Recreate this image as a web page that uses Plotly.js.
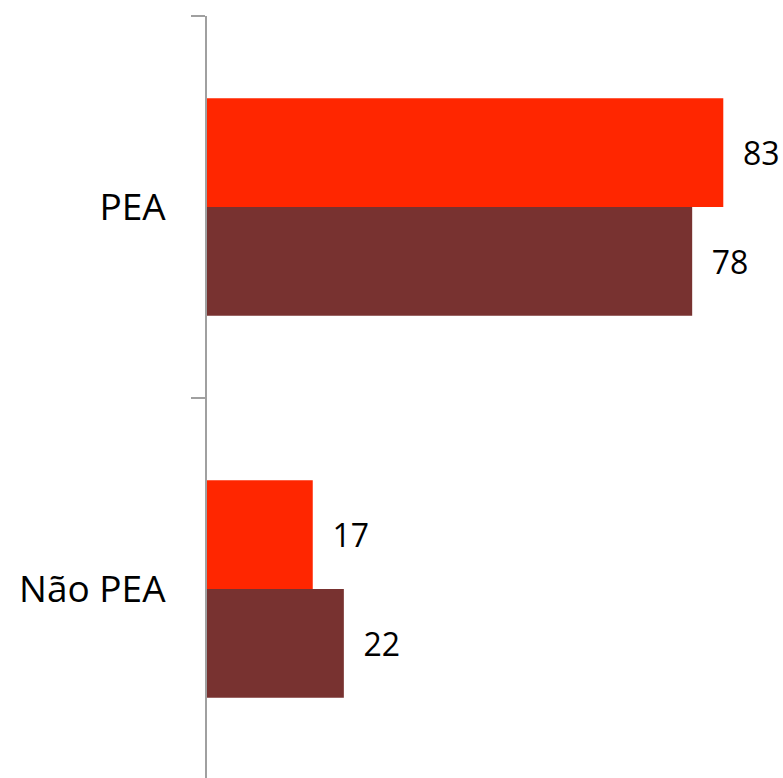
<!DOCTYPE html>
<html>
<head>
<meta charset="utf-8">
<script src="https://cdn.plot.ly/plotly-3.0.1.min.js"></script>
<style>html,body{margin:0;padding:0;overflow:hidden;background:#fff;}</style>
</head>
<body>
<div id="chart"></div>
<script>
const categories = ['PEA', 'Não PEA'];
const seriesA = [83, 17];
const seriesB = [78, 22];
const colorA = '#FF2600';
const colorB = '#783230';

const textFont = {family: 'Open Sans, sans-serif', size: 32, color: '#000'};

const traces = [
  {type: 'bar', orientation: 'h', y: categories, x: seriesA, marker: {color: colorA},
   text: seriesA.map(String), texttemplate: '\u00a0\u00a0%{text}', textposition: 'outside',
   textfont: textFont, cliponaxis: false, hoverinfo: 'skip'},
  {type: 'bar', orientation: 'h', y: categories, x: seriesB, marker: {color: colorB},
   text: seriesB.map(String), texttemplate: '\u00a0\u00a0%{text}', textposition: 'outside',
   textfont: textFont, cliponaxis: false, hoverinfo: 'skip'}
];

const layout = {
  width: 783, height: 782,
  margin: {l: 207, r: 0, t: 16, b: 2},
  paper_bgcolor: '#fff', plot_bgcolor: '#fff',
  showlegend: false,
  barmode: 'group', bargap: 0.43, bargroupgap: 0,
  xaxis: {range: [0, 92.6], visible: false, showgrid: false, zeroline: false},
  yaxis: {
    type: 'category', autorange: 'reversed',
    showline: true, linecolor: '#a0a0a0', linewidth: 2,
    ticks: 'outside', ticklen: 14, tickwidth: 2, tickcolor: '#a0a0a0',
    tickson: 'boundaries', ticklabelstandoff: 32,
    tickfont: {family: 'Open Sans, sans-serif', size: 37, color: '#000'},
    showgrid: false, zeroline: false
  },
  uniformtext: {mode: false}
};

Plotly.newPlot('chart', traces, layout, {staticPlot: true});
</script>
</body>
</html>
